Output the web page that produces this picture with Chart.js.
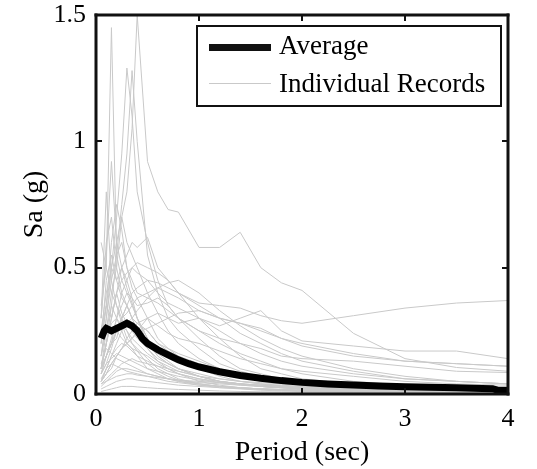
<!DOCTYPE html>
<html>
<head>
<meta charset="utf-8">
<script src="https://cdn.jsdelivr.net/npm/chart.js@4/dist/chart.umd.min.js"></script>
<style>
  html, body { margin: 0; padding: 0; background: #fff; }
  #wrap { width: 537px; height: 469px; }
</style>
</head>
<body>
<div id="wrap"><canvas id="spectra"></canvas></div>
<script>
// periods (sec) at which the individual records are sampled
var periods = [0.05, 0.1, 0.15, 0.2, 0.25, 0.3, 0.35, 0.4, 0.5, 0.6, 0.7, 0.8, 1.0, 1.2, 1.4, 1.6, 1.8, 2.0, 2.5, 3.0, 3.5, 4.0];

// individual record spectra, Sa (g)
var records = [
  [0.35, 0.5, 1.45, 0.55, 0.45, 0.4, 0.35, 0.3, 0.2, 0.15, 0.12, 0.1, 0.07, 0.05, 0.04, 0.03, 0.025, 0.02, 0.015, 0.01, 0.008, 0.007],
  [0.25, 0.35, 0.5, 0.6, 0.7, 0.8, 1.05, 1.5, 0.92, 0.8, 0.73, 0.72, 0.58, 0.58, 0.64, 0.5, 0.44, 0.41, 0.24, 0.14, 0.105, 0.09],
  [0.15, 0.3, 0.5, 0.7, 0.95, 1.29, 1.1, 0.8, 0.6, 0.45, 0.35, 0.3, 0.22, 0.15, 0.1, 0.08, 0.06, 0.05, 0.03, 0.02, 0.015, 0.012],
  [0.1, 0.2, 0.35, 0.55, 0.75, 0.95, 1.28, 1.0, 0.55, 0.4, 0.3, 0.25, 0.18, 0.12, 0.09, 0.07, 0.05, 0.04, 0.03, 0.02, 0.015, 0.01],
  [0.3, 0.55, 0.92, 0.6, 0.5, 0.45, 0.38, 0.3, 0.22, 0.15, 0.12, 0.1, 0.07, 0.05, 0.04, 0.03, 0.025, 0.02, 0.015, 0.01, 0.008, 0.006],
  [0.1, 0.15, 0.2, 0.25, 0.3, 0.35, 0.4, 0.42, 0.45, 0.44, 0.42, 0.4, 0.36, 0.35, 0.34, 0.31, 0.29, 0.28, 0.31, 0.34, 0.36, 0.37],
  [0.05, 0.08, 0.12, 0.15, 0.18, 0.2, 0.22, 0.25, 0.3, 0.32, 0.3, 0.28, 0.3, 0.27, 0.3, 0.33, 0.25, 0.21, 0.19, 0.17, 0.17, 0.14],
  [0.08, 0.12, 0.18, 0.25, 0.3, 0.32, 0.35, 0.38, 0.4, 0.42, 0.4, 0.38, 0.33, 0.3, 0.28, 0.25, 0.22, 0.2, 0.16, 0.13, 0.12, 0.11],
  [0.1, 0.2, 0.3, 0.4, 0.45, 0.48, 0.5, 0.48, 0.45, 0.4, 0.36, 0.34, 0.3, 0.25, 0.2, 0.18, 0.15, 0.14, 0.13, 0.11, 0.09, 0.085],
  [0.15, 0.3, 0.45, 0.55, 0.6, 0.5, 0.45, 0.4, 0.38, 0.36, 0.33, 0.3, 0.25, 0.2, 0.16, 0.13, 0.1, 0.08, 0.05, 0.035, 0.025, 0.02],
  [0.1, 0.2, 0.3, 0.4, 0.5, 0.55, 0.6, 0.58, 0.62, 0.5, 0.45, 0.4, 0.3, 0.22, 0.15, 0.1, 0.08, 0.06, 0.04, 0.03, 0.02, 0.015],
  [0.2, 0.35, 0.6, 0.75, 0.65, 0.5, 0.42, 0.38, 0.3, 0.22, 0.18, 0.15, 0.1, 0.07, 0.05, 0.04, 0.03, 0.025, 0.018, 0.012, 0.01, 0.008],
  [0.1, 0.25, 0.4, 0.5, 0.7, 0.6, 0.55, 0.5, 0.4, 0.32, 0.25, 0.2, 0.14, 0.1, 0.07, 0.05, 0.04, 0.035, 0.025, 0.018, 0.014, 0.01],
  [0.3, 0.6, 0.7, 0.5, 0.4, 0.35, 0.3, 0.25, 0.18, 0.13, 0.1, 0.08, 0.05, 0.035, 0.025, 0.02, 0.015, 0.012, 0.008, 0.006, 0.005, 0.004],
  [0.2, 0.45, 0.55, 0.45, 0.5, 0.42, 0.36, 0.3, 0.22, 0.16, 0.13, 0.1, 0.07, 0.05, 0.04, 0.03, 0.025, 0.02, 0.015, 0.01, 0.008, 0.006],
  [0.05, 0.1, 0.15, 0.2, 0.25, 0.28, 0.3, 0.33, 0.38, 0.42, 0.44, 0.45, 0.4, 0.33, 0.27, 0.22, 0.18, 0.15, 0.1, 0.07, 0.05, 0.04],
  [0.08, 0.15, 0.22, 0.3, 0.35, 0.4, 0.38, 0.35, 0.36, 0.38, 0.35, 0.3, 0.25, 0.22, 0.2, 0.16, 0.13, 0.11, 0.08, 0.06, 0.05, 0.04],
  [0.1, 0.2, 0.28, 0.3, 0.27, 0.25, 0.22, 0.2, 0.16, 0.13, 0.11, 0.09, 0.07, 0.05, 0.04, 0.03, 0.025, 0.02, 0.015, 0.01, 0.008, 0.006],
  [0.08, 0.15, 0.2, 0.25, 0.22, 0.2, 0.18, 0.17, 0.15, 0.12, 0.1, 0.08, 0.06, 0.045, 0.035, 0.03, 0.025, 0.02, 0.015, 0.012, 0.01, 0.008],
  [0.05, 0.1, 0.15, 0.18, 0.2, 0.19, 0.17, 0.15, 0.13, 0.11, 0.09, 0.08, 0.06, 0.05, 0.04, 0.035, 0.03, 0.025, 0.02, 0.015, 0.012, 0.01],
  [0.12, 0.18, 0.16, 0.14, 0.13, 0.12, 0.11, 0.1, 0.08, 0.07, 0.06, 0.05, 0.04, 0.03, 0.025, 0.02, 0.018, 0.015, 0.012, 0.01, 0.008, 0.007],
  [0.04, 0.06, 0.08, 0.1, 0.12, 0.13, 0.14, 0.13, 0.12, 0.11, 0.1, 0.09, 0.07, 0.06, 0.05, 0.045, 0.04, 0.035, 0.028, 0.022, 0.018, 0.015],
  [0.15, 0.25, 0.35, 0.3, 0.25, 0.2, 0.18, 0.15, 0.1, 0.08, 0.06, 0.05, 0.035, 0.025, 0.02, 0.015, 0.012, 0.01, 0.008, 0.006, 0.005, 0.004],
  [0.06, 0.1, 0.12, 0.11, 0.1, 0.09, 0.085, 0.08, 0.07, 0.06, 0.05, 0.045, 0.035, 0.03, 0.025, 0.02, 0.018, 0.015, 0.012, 0.01, 0.008, 0.007],
  [0.03, 0.05, 0.07, 0.09, 0.1, 0.1, 0.095, 0.09, 0.08, 0.07, 0.06, 0.055, 0.045, 0.04, 0.035, 0.03, 0.026, 0.023, 0.018, 0.015, 0.012, 0.01],
  [0.02, 0.03, 0.04, 0.05, 0.055, 0.06, 0.06, 0.055, 0.05, 0.045, 0.04, 0.035, 0.03, 0.025, 0.022, 0.02, 0.018, 0.016, 0.013, 0.011, 0.01, 0.009],
  [0.01, 0.015, 0.02, 0.025, 0.03, 0.03, 0.03, 0.028, 0.025, 0.022, 0.02, 0.018, 0.015, 0.012, 0.01, 0.009, 0.008, 0.007, 0.006, 0.005, 0.004, 0.004],
  [0.2, 0.35, 0.3, 0.4, 0.32, 0.28, 0.25, 0.22, 0.18, 0.14, 0.12, 0.1, 0.08, 0.06, 0.05, 0.04, 0.035, 0.03, 0.02, 0.015, 0.012, 0.01],
  [0.1, 0.15, 0.2, 0.22, 0.3, 0.35, 0.3, 0.28, 0.25, 0.2, 0.17, 0.15, 0.12, 0.1, 0.08, 0.065, 0.055, 0.05, 0.04, 0.03, 0.025, 0.02],
  [0.05, 0.08, 0.1, 0.15, 0.18, 0.22, 0.25, 0.28, 0.3, 0.27, 0.24, 0.22, 0.2, 0.17, 0.14, 0.12, 0.1, 0.09, 0.07, 0.05, 0.04, 0.035],
  [0.6, 0.5, 0.4, 0.35, 0.3, 0.25, 0.2, 0.18, 0.14, 0.1, 0.08, 0.06, 0.04, 0.03, 0.025, 0.02, 0.015, 0.012, 0.009, 0.007, 0.006, 0.005],
  [0.08, 0.12, 0.14, 0.16, 0.15, 0.14, 0.13, 0.12, 0.1, 0.09, 0.08, 0.07, 0.055, 0.045, 0.04, 0.035, 0.03, 0.028, 0.022, 0.018, 0.015, 0.012],
  [0.04, 0.05, 0.06, 0.07, 0.075, 0.08, 0.08, 0.075, 0.07, 0.065, 0.06, 0.055, 0.05, 0.045, 0.04, 0.036, 0.033, 0.03, 0.025, 0.02, 0.018, 0.016],
  [0.25, 0.4, 0.5, 0.45, 0.38, 0.35, 0.3, 0.28, 0.25, 0.2, 0.18, 0.16, 0.13, 0.1, 0.08, 0.06, 0.05, 0.045, 0.035, 0.025, 0.02, 0.017],
  [0.05, 0.08, 0.12, 0.15, 0.18, 0.2, 0.22, 0.24, 0.26, 0.28, 0.3, 0.32, 0.33, 0.3, 0.28, 0.26, 0.22, 0.19, 0.15, 0.13, 0.12, 0.11],
  [0.1, 0.15, 0.2, 0.3, 0.4, 0.45, 0.5, 0.52, 0.5, 0.48, 0.45, 0.4, 0.35, 0.3, 0.24, 0.2, 0.16, 0.13, 0.09, 0.06, 0.05, 0.04],
  [0.3, 0.8, 0.45, 0.35, 0.28, 0.22, 0.2, 0.17, 0.12, 0.09, 0.07, 0.055, 0.04, 0.03, 0.022, 0.018, 0.015, 0.012, 0.009, 0.007, 0.006, 0.005]
];

// average spectrum
var avgPeriods = [0.05, 0.08, 0.1, 0.15, 0.2, 0.25, 0.3, 0.35, 0.4, 0.45, 0.5, 0.6, 0.7, 0.8, 0.9, 1.0, 1.2, 1.4, 1.6, 1.8, 2.0, 2.25, 2.5, 2.75, 3.0, 3.25, 3.5, 3.75, 3.85, 3.9, 4.0];
var avgSa = [0.22, 0.25, 0.26, 0.25, 0.26, 0.27, 0.28, 0.27, 0.25, 0.22, 0.2, 0.175, 0.155, 0.135, 0.12, 0.107, 0.088, 0.073, 0.062, 0.053, 0.046, 0.04, 0.036, 0.032, 0.029, 0.027, 0.025, 0.022, 0.021, 0.015, 0.015];

var xTicks = [0, 1, 2, 3, 4];
var yTicks = [0, 0.5, 1, 1.5];

var serif = "'Liberation Serif', 'Times New Roman', serif";
var gray = '#c9c9c9';

function toPoints(xs, ys) {
  return ys.map(function (v, i) { return { x: xs[i], y: v }; });
}

var datasets = [{
  label: 'Average',
  data: toPoints(avgPeriods, avgSa),
  borderColor: '#000',
  borderWidth: 7,
  order: 0
}];
records.forEach(function (r) {
  datasets.push({
    label: 'Individual Records',
    data: toPoints(periods, r),
    borderColor: gray,
    borderWidth: 1,
    order: 1
  });
});

// box around the plot, inward tick marks and the legend
var frame = {
  id: 'plotframe',
  afterDraw: function (chart) {
    var ctx = chart.ctx, a = chart.chartArea;
    var xs = chart.scales.x, ys = chart.scales.y;
    ctx.save();
    ctx.fillStyle = '#111';
    ctx.fillRect(a.left - 1.5, a.top - 1.5, a.right - a.left + 3, 3);
    ctx.fillRect(a.left - 1.5, a.bottom - 1.5, a.right - a.left + 3, 3);
    ctx.fillRect(a.left - 1.5, a.top - 1.5, 3, a.bottom - a.top + 3);
    ctx.fillRect(a.right - 1.5, a.top - 1.5, 3, a.bottom - a.top + 3);
    xTicks.forEach(function (t) {
      var px = Math.round(xs.getPixelForValue(t));
      ctx.fillRect(px - 1, a.bottom - 6, 2, 6);
      ctx.fillRect(px - 1, a.top, 2, 6);
    });
    yTicks.forEach(function (t) {
      var py = Math.round(ys.getPixelForValue(t));
      ctx.fillRect(a.left, py - 1, 6, 2);
      ctx.fillRect(a.right - 6, py - 1, 6, 2);
    });

    // legend
    var lx = a.right - 311, ly = a.top + 11, lw = 304, lh = 80;
    ctx.fillStyle = 'white';
    ctx.fillRect(lx, ly, lw, lh);
    ctx.fillStyle = '#111';
    ctx.fillRect(lx - 1, ly - 1, lw + 2, 2);
    ctx.fillRect(lx - 1, ly + lh - 1, lw + 2, 2);
    ctx.fillRect(lx - 1, ly - 1, 2, lh + 2);
    ctx.fillRect(lx + lw - 1, ly - 1, 2, lh + 2);
    ctx.fillRect(lx + 12, ly + 18, 62, 7);
    ctx.fillStyle = gray;
    ctx.fillRect(lx + 12, ly + 57, 62, 1);
    ctx.fillStyle = 'black';
    ctx.font = '27px ' + serif;
    ctx.textBaseline = 'middle';
    ctx.fillText('Average', lx + 82, ly + 21);
    ctx.fillText('Individual Records', lx + 82, ly + 59);
    ctx.restore();
  }
};

function fixX(scale) {
  scale.height = 75;
  scale.paddingLeft = 0; scale.paddingRight = 0; scale.paddingTop = 0; scale.paddingBottom = 0;
}
function fixY(scale) {
  scale.width = 96;
  scale.paddingLeft = 0; scale.paddingRight = 0; scale.paddingTop = 0; scale.paddingBottom = 0;
}
function plainLabel(v) { return String(v); }

new Chart(document.getElementById('spectra'), {
  type: 'line',
  data: { datasets: datasets },
  plugins: [frame],
  options: {
    responsive: true,
    maintainAspectRatio: false,
    animation: false,
    layout: { padding: { top: 15, right: 29, bottom: 0, left: 0 } },
    elements: { point: { radius: 0 }, line: { tension: 0 } },
    plugins: { legend: { display: false }, tooltip: { enabled: false } },
    scales: {
      x: {
        type: 'linear',
        min: 0, max: 4,
        afterFit: fixX,
        afterBuildTicks: function (s) { s.ticks = xTicks.map(function (v) { return { value: v }; }); },
        grid: { display: false, drawTicks: false },
        border: { display: false },
        ticks: { padding: 10, color: '#000', font: { family: serif, size: 26 }, callback: plainLabel },
        title: { display: true, text: 'Period (sec)', color: '#000', padding: { top: 0, bottom: 0 }, font: { family: serif, size: 28 } }
      },
      y: {
        type: 'linear',
        min: 0, max: 1.5,
        afterFit: fixY,
        afterBuildTicks: function (s) { s.ticks = yTicks.map(function (v) { return { value: v }; }); },
        grid: { display: false, drawTicks: false },
        border: { display: false },
        ticks: { padding: 10, color: '#000', font: { family: serif, size: 26 }, callback: plainLabel },
        title: { display: true, text: 'Sa (g)', color: '#000', padding: { top: 18, bottom: 18 }, font: { family: serif, size: 28 } }
      }
    }
  }
});
</script>
</body>
</html>
